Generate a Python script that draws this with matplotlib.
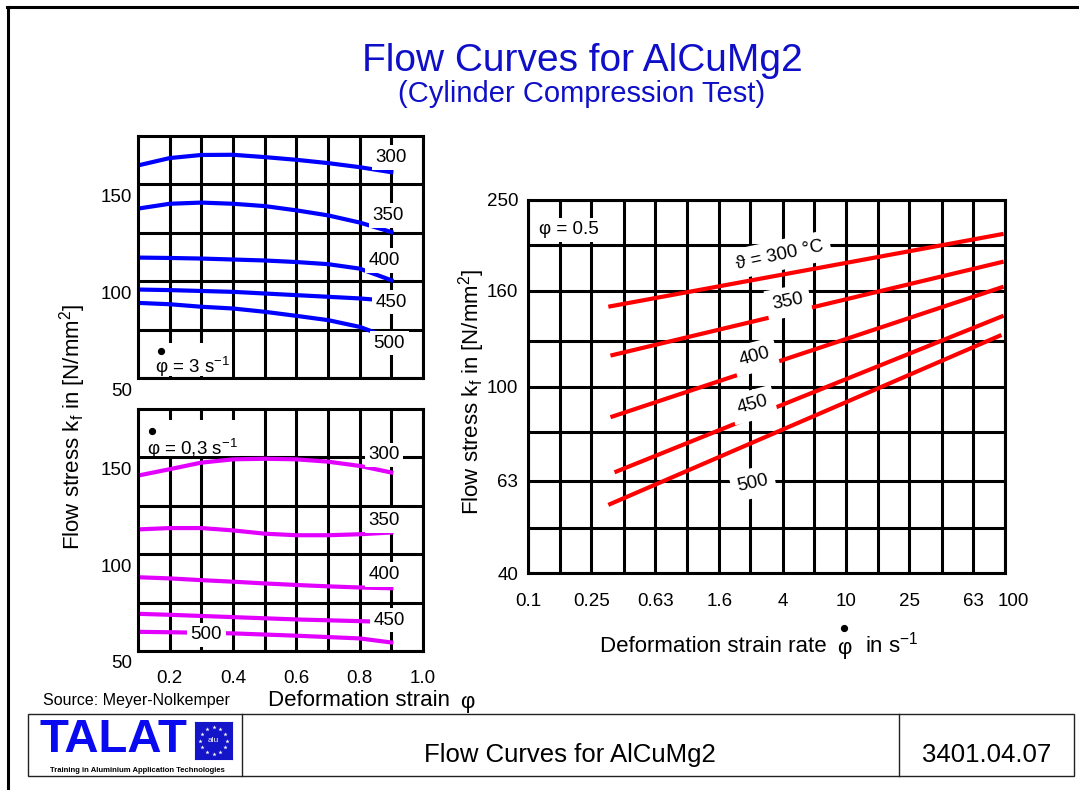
import matplotlib
matplotlib.use("Agg")
import matplotlib.pyplot as plt
import matplotlib.transforms as mtransforms
from matplotlib.patches import Rectangle
from matplotlib.lines import Line2D
from matplotlib.ticker import NullFormatter
import numpy as np

plt.rcParams['font.family'] = ['Liberation Sans', 'DejaVu Sans']
plt.rcParams['mathtext.fontset'] = 'custom'
plt.rcParams['mathtext.rm'] = 'Liberation Sans'
plt.rcParams['mathtext.it'] = 'Liberation Sans:italic'
plt.rcParams['mathtext.bf'] = 'Liberation Sans:bold'

# ---------------- data ----------------
# left panels: flow stress vs deformation strain
strain = [0.1, 0.2, 0.3, 0.4, 0.5, 0.6, 0.7, 0.8, 0.9]
# strain rate 3 1/s
kf3_300 = [159.8, 163.6, 165.2, 165.3, 164.1, 162.7, 161.0, 158.9, 156.3]
kf3_350 = [137.5, 140.0, 140.6, 140.0, 138.8, 136.6, 134.0, 130.3, 125.4]
kf3_400 = [112.2, 112.0, 111.7, 111.2, 110.7, 109.9, 108.8, 106.5, 100.5]
strain3_450 = [0.1, 0.2, 0.4, 0.6, 0.8, 0.9]
kf3_450 = [95.7, 95.4, 94.5, 92.8, 91.1, 89.8]
strain3_500 = [0.1, 0.2, 0.3, 0.4, 0.5, 0.6, 0.7, 0.8, 0.85]
kf3_500 = [88.8, 88.1, 86.8, 85.9, 84.2, 82.1, 79.9, 76.4, 73.4]
# strain rate 0.3 1/s
kf03_300 = [140.6, 143.9, 147.3, 149.0, 149.3, 149.0, 147.8, 145.6, 142.2]
kf03_350 = [112.8, 113.5, 113.5, 112.3, 110.6, 109.8, 109.8, 110.3, 111.2]
kf03_400 = [88.1, 87.5, 86.6, 85.8, 84.9, 84.1, 83.4, 82.8, 82.4]
strain03_450 = [0.1, 0.2, 0.4, 0.6, 0.85]
kf03_450 = [69.2, 68.7, 67.5, 66.3, 65.2]
strain03_500 = [0.1, 0.2, 0.4, 0.6, 0.8, 0.9]
kf03_500 = [59.9, 59.7, 59.1, 57.9, 56.5, 54.4]

temps = ['300', '350', '400', '450', '500']

strain_ticks = [0.2, 0.4, 0.6, 0.8, 1.0]
strain_ticklabels = ['0.2', '0.4', '0.6', '0.8', '1.0']
strain_grid = [0.2, 0.3, 0.4, 0.5, 0.6, 0.7, 0.8, 0.9]
kf_left_ticks = [50, 100, 150]
kf_left_ticklabels = ['50', '100', '150']
kf_left_grid = [75, 100, 125, 150]

# right panel: flow stress vs strain rate (phi = 0.5)
rate_lo = [0.32, 0.33, 0.33, 0.35, 0.32]
rate_hi = [98, 98, 98, 98, 95]
kf_lo = [148.0, 116.4, 86.0, 65.6, 55.9]
kf_hi = [211.7, 184.7, 163.3, 141.6, 128.8]
right_labels = ['\u03d1 = 300 \u00b0C', '350', '400', '450', '500']

rate_ticks = [0.1, 0.25, 0.63, 1.6, 4, 10, 25, 63, 100]
rate_ticklabels = ['0.1', '0.25', '0.63', '1.6', '4', '10', '25', '63', '100']
rate_minor = [0.16, 0.4, 1.0, 2.5, 6.3, 16, 40]
kf_right_ticks = [40, 63, 100, 160, 250]
kf_right_ticklabels = ['40', '63', '100', '160', '250']
kf_right_minor = [50, 80, 125, 200]

# ---------------- layout helpers ----------------
W, H = 1079, 790
fig = plt.figure(figsize=(W / 100, H / 100), dpi=100)


def fx(X):
    return X / W


def fy(Y):
    return 1 - Y / H


def pax(X0, Y0, X1, Y1):
    return [fx(X0), fy(Y1), (X1 - X0) / W, (Y1 - Y0) / H]


GRID_LW = 2.2
BLUE = '#0000FF'
MAGENTA = '#E200FF'
RED = '#FF0000'
TITLE_BLUE = '#0F0FC8'
DOT_MS = 4.2

ax1 = fig.add_axes(pax(138, 136, 423, 378))
ax2 = fig.add_axes(pax(138, 409, 423, 651))
ax3 = fig.add_axes(pax(528, 200, 1005, 573))


def style_left(ax, show_x):
    ax.set_xlim(0.1, 1.0)
    ax.set_ylim(50, 175)
    ax.set_xticks(strain_ticks, strain_ticklabels if show_x else [''] * len(strain_ticks))
    ax.set_xticks(strain_grid, minor=True)
    ax.set_yticks(kf_left_ticks, kf_left_ticklabels)
    ax.set_yticks(kf_left_grid, minor=True)
    ax.xaxis.set_minor_formatter(NullFormatter())
    ax.yaxis.set_minor_formatter(NullFormatter())
    ax.tick_params(which='both', length=0, labelsize=13.5)
    ax.tick_params(axis='y', pad=4.3)
    ax.tick_params(axis='x', pad=13.5)
    ax.grid(True, which='both', color='black', lw=GRID_LW)
    ax.set_axisbelow(True)
    for s in ax.spines.values():
        s.set_linewidth(GRID_LW)
        s.set_zorder(5)
    off = mtransforms.ScaledTranslation(0, -11 / 100, fig.dpi_scale_trans)
    for t in ax.yaxis.get_major_ticks():
        t.label1.set_transform(t.label1.get_transform() + off)


style_left(ax1, False)
style_left(ax2, True)

LW_CURVE = 3.0
ax1.plot(strain, kf3_300, color=BLUE, lw=LW_CURVE, zorder=2)
ax1.plot(strain, kf3_350, color=BLUE, lw=LW_CURVE, zorder=2)
ax1.plot(strain, kf3_400, color=BLUE, lw=LW_CURVE, zorder=2)
ax1.plot(strain3_450, kf3_450, color=BLUE, lw=LW_CURVE, zorder=2)
ax1.plot(strain3_500, kf3_500, color=BLUE, lw=LW_CURVE, zorder=2)

ax2.plot(strain, kf03_300, color=MAGENTA, lw=LW_CURVE, zorder=2)
ax2.plot(strain, kf03_350, color=MAGENTA, lw=LW_CURVE, zorder=2)
ax2.plot(strain, kf03_400, color=MAGENTA, lw=LW_CURVE, zorder=2)
ax2.plot(strain03_450, kf03_450, color=MAGENTA, lw=LW_CURVE, zorder=2)
ax2.plot(strain03_500, kf03_500, color=MAGENTA, lw=LW_CURVE, zorder=2)

LBL = dict(fontsize=13.5, ha='center', va='center', zorder=4,
           bbox=dict(boxstyle='square,pad=0.2', fc='white', ec='none'))
pos_top = [(0.90, 163.9), (0.89, 134.0), (0.877, 110.8), (0.90, 89.2), (0.894, 68.0)]
pos_bot = [(0.877, 151.3), (0.877, 117.3), (0.877, 89.4), (0.893, 66.0), (0.315, 58.3)]
for t, (x, y) in zip(temps, pos_top):
    ax1.text(x, y, t, **LBL)
for t, (x, y) in zip(temps, pos_bot):
    ax2.text(x, y, t, **LBL)


def dot(target, X, Y):
    """rate dot drawn as a marker in figure-pixel position"""
    target.add_artist(Line2D([fx(X)], [fy(Y)], marker='o', ms=DOT_MS, color='black',
                             lw=0, transform=fig.transFigure, zorder=4, clip_on=False))


# strain-rate annotations in the left panels
ax1.add_patch(Rectangle((fx(141), fy(376)), (232 - 141) / W, (376 - 343) / H,
                        transform=fig.transFigure, fc='white', ec='none', zorder=1.5))
ax1.text(fx(155), fy(373), '\u03c6 = 3 s$^{-1}$', transform=fig.transFigure,
         fontsize=13.5, ha='left', va='baseline', zorder=4)
dot(ax1, 160.7, 351)

ax2.add_patch(Rectangle((fx(140), fy(456)), (240 - 140) / W, (456 - 420) / H,
                        transform=fig.transFigure, fc='white', ec='none', zorder=1.5))
ax2.text(fx(147), fy(455), '\u03c6 = 0,3 s$^{-1}$', transform=fig.transFigure,
         fontsize=13.5, ha='left', va='baseline', zorder=4)
dot(ax2, 152, 431)

# ---------------- right panel ----------------
ax3.set_xscale('log')
ax3.set_yscale('log')
ax3.set_xlim(0.1, 100)
ax3.set_ylim(40, 250)
ax3.set_xticks(rate_ticks, rate_ticklabels)
ax3.set_xticks(rate_minor, minor=True)
ax3.set_yticks(kf_right_ticks, kf_right_ticklabels)
ax3.set_yticks(kf_right_minor, minor=True)
ax3.xaxis.set_minor_formatter(NullFormatter())
ax3.yaxis.set_minor_formatter(NullFormatter())
ax3.tick_params(which='both', length=0, labelsize=13.5)
ax3.tick_params(axis='y', pad=7)
ax3.tick_params(axis='x', pad=14.5)
ax3.grid(True, which='both', color='black', lw=GRID_LW)
ax3.set_axisbelow(True)
for s in ax3.spines.values():
    s.set_linewidth(GRID_LW)
    s.set_zorder(5)
off100 = mtransforms.ScaledTranslation(8 / 100, 0, fig.dpi_scale_trans)
lab_last = ax3.xaxis.get_major_ticks()[-1].label1
lab_last.set_transform(lab_last.get_transform() + off100)

for lo, hi, a, b in zip(rate_lo, rate_hi, kf_lo, kf_hi):
    ax3.plot([lo, hi], [a, b], color=RED, lw=3.0, zorder=2, solid_capstyle='butt')

pos_right = [(3.85, 190.8), (4.33, 151.5), (2.68, 115.6), (2.60, 91.3), (2.60, 62.2)]
rot_right = [12, 11, 15, 15, 12]
for t, (x, y), r in zip(right_labels, pos_right, rot_right):
    ax3.text(x, y, t, fontsize=13.5, ha='center', va='center', rotation=r,
             rotation_mode='anchor', zorder=4,
             bbox=dict(boxstyle='square,pad=0.35', fc='white', ec='none'))

ax3.text(0.024, 0.92, '\u03c6 = 0.5', transform=ax3.transAxes, fontsize=13.5,
         ha='left', va='center', zorder=4,
         bbox=dict(boxstyle='square,pad=0.2', fc='white', ec='none'))

# ---------------- axis labels ----------------
ylab = 'Flow stress k$_\\mathrm{f}$ in [N/mm$^2$]'
fig.text(fx(73), fy(427), ylab, rotation=90, ha='center', va='center', fontsize=16)
fig.text(fx(472), fy(392), ylab, rotation=90, ha='center', va='center', fontsize=16)

fig.text(fx(268), fy(706), 'Deformation strain', ha='left', va='baseline', fontsize=16)
fig.text(fx(467), fy(708), '\u03c6', ha='center', va='baseline', fontsize=16)

fig.text(fx(600), fy(652), 'Deformation strain rate', ha='left', va='baseline', fontsize=16)
fig.text(fx(844), fy(654), '\u03c6', ha='center', va='baseline', fontsize=16)
dot(fig, 843.5, 628)
fig.text(fx(865), fy(652), 'in s$^{-1}$', ha='left', va='baseline', fontsize=16)

# ---------------- titles ----------------
fig.text(fx(582), fy(71), 'Flow Curves for AlCuMg2', ha='center', va='baseline',
         fontsize=28, color=TITLE_BLUE)
fig.text(fx(582), fy(102), '(Cylinder Compression Test)', ha='center', va='baseline',
         fontsize=21, color=TITLE_BLUE)

fig.text(fx(43), fy(701), 'Source: Meyer-Nolkemper', ha='left', va='center', fontsize=11.5)

# ---------------- frame and footer ----------------
fig.add_artist(Line2D([fx(8), fx(8)], [fy(7), fy(790)], color='black', lw=2.2,
                      transform=fig.transFigure))
fig.add_artist(Line2D([fx(7), 1.0], [fy(7), fy(7)], color='black', lw=2.2,
                      transform=fig.transFigure))
fig.add_artist(Rectangle((fx(28), fy(776)), (1074 - 28) / W, (776 - 714) / H,
                         transform=fig.transFigure, fill=False, ec='#222222', lw=1.0))
for Xd in (242, 899):
    fig.add_artist(Line2D([fx(Xd), fx(Xd)], [fy(714), fy(776)], color='#222222', lw=1.0,
                          transform=fig.transFigure))

fig.text(fx(570), fy(762), 'Flow Curves for AlCuMg2', ha='center', va='baseline', fontsize=18.5)
fig.text(fx(987), fy(762), '3401.04.07', ha='center', va='baseline', fontsize=18.5)

# logo
fig.text(fx(39), fy(752), 'TALAT', ha='left', va='baseline', fontsize=34,
         fontweight='bold', color='#0A0AF0')
fig.text(fx(137), fy(770), 'Training in Aluminium Application Technologies',
         ha='center', va='center', fontsize=5.5, fontweight='bold')
axf = fig.add_axes(pax(195, 722, 232, 759))
axf.set_facecolor('#1414C8')
axf.set_xlim(0, 1)
axf.set_ylim(0, 1)
axf.set_xticks([])
axf.set_yticks([])
for s in axf.spines.values():
    s.set_color('#1414C8')
ang = np.linspace(0, 2 * np.pi, 12, endpoint=False)
axf.scatter(0.5 + 0.36 * np.cos(ang), 0.5 + 0.36 * np.sin(ang), marker='*', s=10,
            color='white', lw=0)
axf.text(0.5, 0.5, 'alu', ha='center', va='center', fontsize=6, color='white')

fig.savefig('out.png', dpi=100)
